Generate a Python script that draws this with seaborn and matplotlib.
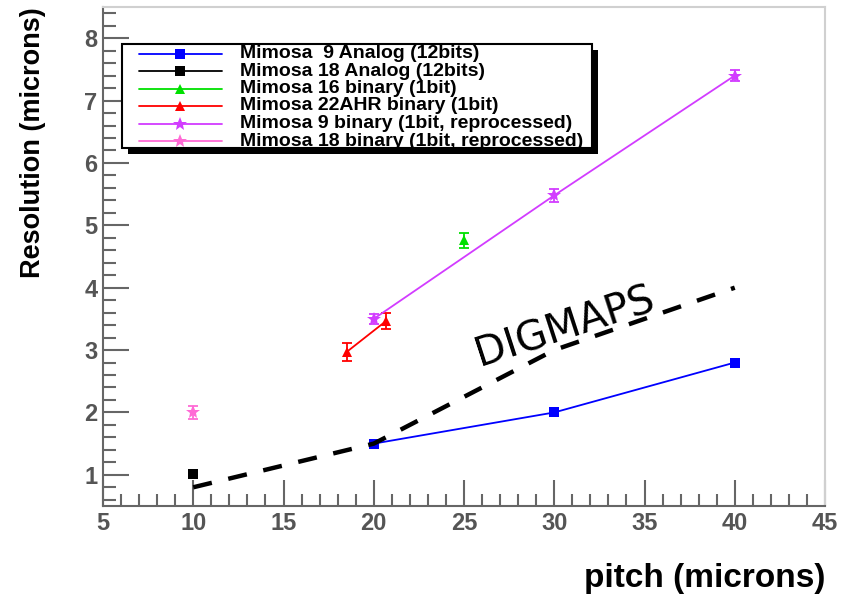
import matplotlib
matplotlib.use("Agg")
import matplotlib.pyplot as plt
import pandas as pd
import seaborn as sns
from matplotlib.lines import Line2D
from matplotlib.patches import Rectangle
from matplotlib.ticker import MultipleLocator

# ---- measured resolution vs pixel pitch ----
m9_analog_pitch = [20, 30, 40]
m9_analog_res = [1.50, 2.00, 2.80]
m9_analog_err = [0.05, 0.05, 0.05]

m18_analog_pitch = [10]
m18_analog_res = [1.02]
m18_analog_err = [0.05]

m16_binary_pitch = [25]
m16_binary_res = [4.76]
m16_binary_err = [0.12]

m22_binary_pitch = [18.5, 20.7]
m22_binary_res = [2.97, 3.47]
m22_binary_err = [0.14, 0.13]

m9_binary_pitch = [20, 30, 40]
m9_binary_res = [3.50, 5.48, 7.40]
m9_binary_err = [0.08, 0.10, 0.09]

m18_binary_pitch = [10]
m18_binary_res = [2.00]
m18_binary_err = [0.10]

# DIGMAPS simulation curve
digmaps_pitch = [10, 20, 30, 40]
digmaps_res = [0.80, 1.50, 3.00, 4.00]

series_labels = [
    "Mimosa  9 Analog (12bits)",
    "Mimosa 18 Analog (12bits)",
    "Mimosa 16 binary (1bit)",
    "Mimosa 22AHR binary (1bit)",
    "Mimosa 9 binary (1bit, reprocessed)",
    "Mimosa 18 binary (1bit, reprocessed)",
]
series_colors = ["#0000ff", "#000000", "#00e000", "#ff0000", "#d23cff", "#ff6ad5"]
series_markers = ["s", "s", "^", "^", "*", "*"]
series_sizes = [7.5, 7.5, 6.5, 6.5, 10, 10]

series_data = [
    (m9_analog_pitch, m9_analog_res, m9_analog_err),
    (m18_analog_pitch, m18_analog_res, m18_analog_err),
    (m16_binary_pitch, m16_binary_res, m16_binary_err),
    (m22_binary_pitch, m22_binary_res, m22_binary_err),
    (m9_binary_pitch, m9_binary_res, m9_binary_err),
    (m18_binary_pitch, m18_binary_res, m18_binary_err),
]

sns.set_style("white")
plt.rcParams["font.family"] = ["Liberation Sans", "DejaVu Sans"]

W, H = 850, 597
fig = plt.figure(figsize=(W / 100, H / 100), dpi=100)
ax = fig.add_axes([103 / W, 1 - 506 / H, 722 / W, 499 / H])

for (px, res, err), col, mk, ms in zip(series_data, series_colors,
                                       series_markers, series_sizes):
    df = pd.DataFrame({"pitch": px, "res": res})
    ax.errorbar(px, res, yerr=err, fmt="none", ecolor=col, elinewidth=1.3,
                capsize=3.5, capthick=1.3, zorder=3)
    sns.lineplot(data=df, x="pitch", y="res", color=col, linewidth=1.3,
                 marker=mk, markersize=ms, markeredgewidth=0, sort=False,
                 errorbar=None, legend=False, ax=ax, zorder=4)

dig = pd.DataFrame({"pitch": digmaps_pitch, "res": digmaps_res})
ax.plot(dig["pitch"], dig["res"], color="black", linewidth=3.2,
        linestyle=(0, (4.3, 3.8)), dash_capstyle="butt", zorder=5)
ax.text(30.6, 3.36, "DIGMAPS", rotation=18, rotation_mode="anchor",
        ha="center", va="center", fontsize=29, family="DejaVu Sans",
        color="black", zorder=6)

ax.set_xlim(5, 45)
ax.set_ylim(0.5, 8.5)
ax.xaxis.set_major_locator(MultipleLocator(5))
ax.xaxis.set_minor_locator(MultipleLocator(1))
ax.yaxis.set_major_locator(MultipleLocator(1))
ax.yaxis.set_minor_locator(MultipleLocator(0.2))
ax.tick_params(which="both", direction="in", color="#666666", width=1.5,
               top=False, right=False, bottom=True, left=True)
ax.tick_params(which="major", length=19, labelsize=17, labelcolor="#555555",
               pad=4)
ax.tick_params(which="minor", length=9)
for t in ax.get_xticklabels() + ax.get_yticklabels():
    t.set_fontweight("bold")

for side in ("left", "bottom"):
    ax.spines[side].set_color("#666666")
    ax.spines[side].set_linewidth(1.5)
for side in ("top", "right"):
    ax.spines[side].set_color("#d0d0d0")
    ax.spines[side].set_linewidth(1.5)

xl = ax.set_xlabel("pitch (microns)", fontsize=24, fontweight="bold",
                   loc="right", color="black")
ax.xaxis.set_label_coords(1.0, -72 / 499)
xl.set_va("center")
yl = ax.set_ylabel("Resolution (microns)", fontsize=19.5, fontweight="bold",
                   loc="top", color="black")
ax.yaxis.set_label_coords(-70 / 722, 1.0)
yl.set_va("center")


# ---- legend box with a drop shadow (figure pixel coordinates) ----
def fx(x):
    return x / W


def fy(y):
    return 1 - y / H


box_l, box_r, box_t, box_b = 122, 592, 44, 148
fig.add_artist(Rectangle((fx(box_l + 6), fy(box_b + 6)),
                         (box_r - box_l) / W, (box_b - box_t) / H,
                         transform=fig.transFigure, facecolor="black",
                         edgecolor="none", zorder=20))
fig.add_artist(Rectangle((fx(box_l), fy(box_b)),
                         (box_r - box_l) / W, (box_b - box_t) / H,
                         transform=fig.transFigure, facecolor="white",
                         edgecolor="black", linewidth=1.5, zorder=21))
row0, row_step = 53.5, 17.5
for i, (lab, col, mk, ms) in enumerate(zip(series_labels, series_colors,
                                           series_markers, series_sizes)):
    yy = fy(row0 + i * row_step)
    fig.add_artist(Line2D([fx(139), fx(222)], [yy, yy], color=col,
                          linewidth=1.3, transform=fig.transFigure, zorder=22))
    fig.add_artist(Line2D([fx(180)], [yy], color=col, marker=mk,
                          markersize=ms, markeredgewidth=0, linestyle="none",
                          transform=fig.transFigure, zorder=23))
    fig.text(fx(240), yy, lab, ha="left", va="center", fontsize=14,
             fontweight="bold", family="Liberation Sans", color="black",
             zorder=24)

fig.savefig("out.png", dpi=100)
